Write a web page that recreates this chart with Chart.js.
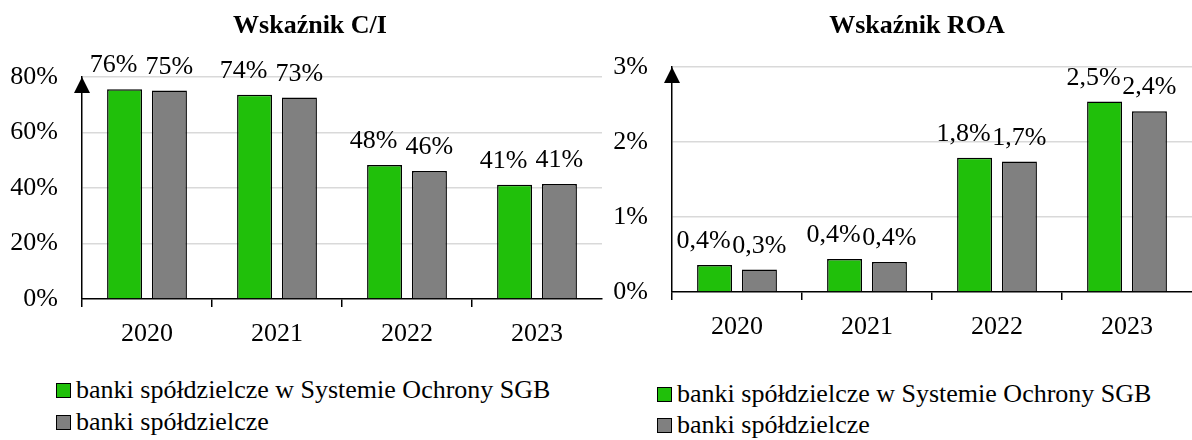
<!DOCTYPE html>
<html>
<head>
<meta charset="utf-8">
<script src="https://cdn.jsdelivr.net/npm/chart.js@4.4.1/dist/chart.umd.min.js"></script>
<style>
  body { margin: 0; background: #fff; width: 1192px; height: 440px; position: relative; overflow: hidden;
         font-family: "Liberation Serif", "Times New Roman", serif; }
  #ciBox { position: absolute; left: 0; top: 0; }
  #roaBox { position: absolute; left: 600px; top: 0; }
  .legend { position: absolute; font-size: 26px; line-height: 31px; color: #000; }
  .legend div { white-space: nowrap; }
  .legend .sq { display: inline-block; width: 15px; height: 15px; box-sizing: border-box;
                border: 1.5px solid #000; margin-right: 5px; }
</style>
</head>
<body>
<div id="ciBox"><canvas id="ciChart" width="610" height="360"></canvas></div>
<div id="roaBox"><canvas id="roaChart" width="592" height="360"></canvas></div>
<div class="legend" id="ciLegend" style="left:56px; top:374px;"></div>
<div class="legend" id="roaLegend" style="left:657px; top:378px;"></div>

<script>
const years = ['2020', '2021', '2022', '2023'];
const seriesNames = ['banki spółdzielcze w Systemie Ochrony SGB', 'banki spółdzielcze'];
const seriesColors = ['#20c00a', '#808080'];

// wskaznik C/I, %
const ciSgb = [75.6, 73.6, 48.3, 41.2];
const ciAll = [75.1, 72.6, 46.1, 41.4];
const ciTicks = [0, 20, 40, 60, 80];

// wskaznik ROA, %
const roaSgb = [0.36, 0.44, 1.79, 2.54];
const roaAll = [0.30, 0.40, 1.74, 2.41];
const roaTicks = [0, 1, 2, 3];

Chart.defaults.font.family = '"Liberation Serif", "Times New Roman", serif';
Chart.defaults.color = '#000';

// value labels over the bars; the first series' labels sit a bit to the left, like in Excel
function barLabels(fmt) {
  return {
    id: 'barLabels',
    afterDatasetsDraw(chart) {
      const ctx = chart.ctx;
      ctx.save();
      ctx.font = '26px "Liberation Serif", "Times New Roman", serif';
      ctx.fillStyle = '#000';
      ctx.textAlign = 'center';
      ctx.textBaseline = 'alphabetic';
      chart.data.datasets.forEach((ds, i) => {
        const dx = i === 0 ? -11 : 0;
        chart.getDatasetMeta(i).data.forEach((bar, j) => {
          ctx.fillText(fmt(ds.data[j]), bar.x + dx, bar.y - 17);
        });
      });
      ctx.restore();
    }
  };
}

// move the title block sideways after layout
function titleShift(dx) {
  return {
    id: 'titleShift',
    afterLayout(chart) {
      if (chart.titleBlock) {
        chart.titleBlock.left += dx;
        chart.titleBlock.right += dx;
      }
    }
  };
}

const axisArrow = {
  id: 'axisArrow',
  afterDraw(chart) {
    const { ctx, chartArea } = chart;
    const x = chartArea.left, y = chartArea.top;
    ctx.save();
    ctx.fillStyle = '#000';
    ctx.beginPath();
    ctx.moveTo(x, y);
    ctx.lineTo(x - 8, y + 16);
    ctx.lineTo(x + 8, y + 16);
    ctx.closePath();
    ctx.fill();
    ctx.restore();
  }
};

function drawChart(id, title, sgb, all, ticks, fmt, pad, titlePad, yWidth, dx) {
  return new Chart(document.getElementById(id), {
    type: 'bar',
    data: {
      labels: years,
      datasets: [
        { label: seriesNames[0], data: sgb, backgroundColor: seriesColors[0], borderColor: '#000', borderWidth: 1.5 },
        { label: seriesNames[1], data: all, backgroundColor: seriesColors[1], borderColor: '#000', borderWidth: 1.5 }
      ]
    },
    options: {
      responsive: false,
      animation: false,
      layout: { padding: pad },
      datasets: { bar: { categoryPercentage: 0.69, barPercentage: 0.78 } },
      plugins: {
        legend: { display: false },
        tooltip: { enabled: false },
        title: {
          display: true,
          text: title,
          color: '#000',
          font: { size: 26, weight: 'bold' },
          padding: titlePad
        }
      },
      scales: {
        x: {
          grid: {
            drawOnChartArea: false,
            tickLength: 8,
            lineWidth: 1.5,
            color: ctx => ctx.tick ? '#000' : 'rgba(0,0,0,0)'
          },
          border: { color: '#000', width: 1.5 },
          ticks: { font: { size: 26 }, padding: 12 },
          afterFit: s => { s.height = 50; }
        },
        y: {
          min: ticks[0],
          max: ticks[ticks.length - 1],
          ticks: {
            stepSize: ticks[1] - ticks[0],
            font: { size: 26 },
            padding: 24,
            callback: v => v + '%'
          },
          grid: {
            drawTicks: false,
            lineWidth: 1.5,
            color: ctx => ctx.tick && ctx.tick.value === 0 ? 'rgba(0,0,0,0)' : '#d9d9d9'
          },
          border: { color: '#000', width: 1.5 },
          afterFit: s => { s.width = yWidth; }
        }
      }
    },
    plugins: [barLabels(fmt), axisArrow, titleShift(dx)]
  });
}

function drawLegend(id, rowHeight) {
  const box = document.getElementById(id);
  seriesNames.forEach((name, i) => {
    const row = document.createElement('div');
    row.style.height = rowHeight + 'px';
    const sq = document.createElement('span');
    sq.className = 'sq';
    sq.style.background = seriesColors[i];
    row.appendChild(sq);
    row.appendChild(document.createTextNode(name));
    box.appendChild(row);
  });
}

drawChart('ciChart', 'Wskaźnik C/I', ciSgb, ciAll, ciTicks,
  v => Math.round(v) + '%',
  { left: 8, right: 8, top: 0, bottom: 11 }, { top: 10.4, bottom: 35.4 }, 74, 5);

drawChart('roaChart', 'Wskaźnik ROA', roaSgb, roaAll, roaTicks,
  v => v.toFixed(1).replace('.', ',') + '%',
  { left: 12, right: 0, top: 0, bottom: 18 }, { top: 10.4, bottom: 25.4 }, 60, 15);

drawLegend('ciLegend', 32);
drawLegend('roaLegend', 31);
</script>
</body>
</html>
